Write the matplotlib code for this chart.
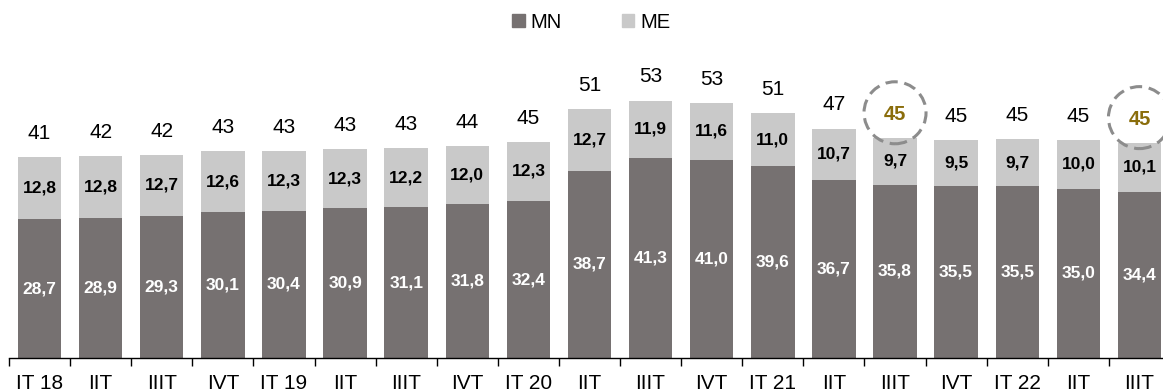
import matplotlib
matplotlib.use("Agg")
import matplotlib.pyplot as plt
from matplotlib.patches import Ellipse, Patch

plt.rcParams['font.family'] = ['Liberation Sans', 'DejaVu Sans']

categories = ['IT 18', 'IIT', 'IIIT', 'IVT', 'IT 19', 'IIT', 'IIIT', 'IVT', 'IT 20',
              'IIT', 'IIIT', 'IVT', 'IT 21', 'IIT', 'IIIT', 'IVT', 'IT 22', 'IIT', 'IIIT']
mn = [28.7, 28.9, 29.3, 30.1, 30.4, 30.9, 31.1, 31.8, 32.4, 38.7, 41.3, 41.0, 39.6,
      36.7, 35.8, 35.5, 35.5, 35.0, 34.4]
me = [12.8, 12.8, 12.7, 12.6, 12.3, 12.3, 12.2, 12.0, 12.3, 12.7, 11.9, 11.6, 11.0,
      10.7, 9.7, 9.5, 9.7, 10.0, 10.1]
totals = [41, 42, 42, 43, 43, 43, 43, 44, 45, 51, 53, 53, 51, 47, 45, 45, 45, 45, 45]
highlighted = [14, 18]

C_MN = '#767171'
C_ME = '#C9C9C9'
GOLD = '#8A6D0B'

W, H = 1163, 392
fig = plt.figure(figsize=(W / 100, H / 100), dpi=100)
ax_left = 9 / W
ax_right = 1170 / W
ax_bottom = (H - 358) / H
ax_top = (H - 60) / H
ax = fig.add_axes([ax_left, ax_bottom, ax_right - ax_left, ax_top - ax_bottom])
px_per_unit = 4.84
ymax = 298 / px_per_unit
ax.set_ylim(0, ymax)
ax.set_xlim(-0.5, len(categories) - 0.5)

x = list(range(len(categories)))
bw = 0.71
ax.bar(x, mn, width=bw, color=C_MN, label='MN')
ax.bar(x, me, width=bw, bottom=mn, color=C_ME, label='ME')

def fmt(v):
    return f"{v:.1f}".replace('.', ',')

for i in x:
    ax.text(i, mn[i] / 2, fmt(mn[i]), ha='center', va='center', color='white',
            fontsize=12.5, fontweight='bold')
    ax.text(i, mn[i] + me[i] / 2, fmt(me[i]), ha='center', va='center', color='black',
            fontsize=12.5, fontweight='bold')
    top = mn[i] + me[i]
    if i in highlighted:
        ax.annotate(str(totals[i]), (i, top), xytext=(0, 17), textcoords='offset points',
                    ha='center', va='center', color=GOLD, fontsize=14.5, fontweight='bold')
        cy = top + 25 / px_per_unit
        ax.add_patch(Ellipse((i, cy), width=62 / 61.1, height=62 / px_per_unit,
                             fill=False, edgecolor='#8C8C8C', lw=2.2,
                             linestyle=(0, (4, 2.2)), clip_on=False))
    else:
        ax.annotate(str(totals[i]), (i, top), xytext=(0, 17), textcoords='offset points',
                    ha='center', va='center', color='black', fontsize=15)

for s in ['top', 'right', 'left']:
    ax.spines[s].set_visible(False)
ax.spines['bottom'].set_color('black')
ax.spines['bottom'].set_linewidth(1)
ax.set_yticks([])
ax.set_xticks(x)
ax.set_xticklabels(categories, fontsize=15)
ax.tick_params(axis='x', which='major', length=0, pad=11.5)
ax.set_xticks([i - 0.5 for i in range(len(categories) + 1)], minor=True)
ax.tick_params(axis='x', which='minor', length=6, width=1, color='black')

handles = [Patch(color=C_MN, label='MN'), Patch(color=C_ME, label='ME')]
fig.legend(handles=handles, loc='center', bbox_to_anchor=((ax_left + ax_right) / 2 + 2 / W, 1 - 22 / H),
           ncol=2, frameon=False, fontsize=14.5, handlelength=0.6, handleheight=0.6,
           handletextpad=0.3, columnspacing=3.0)

fig.savefig('out.png', dpi=100)
